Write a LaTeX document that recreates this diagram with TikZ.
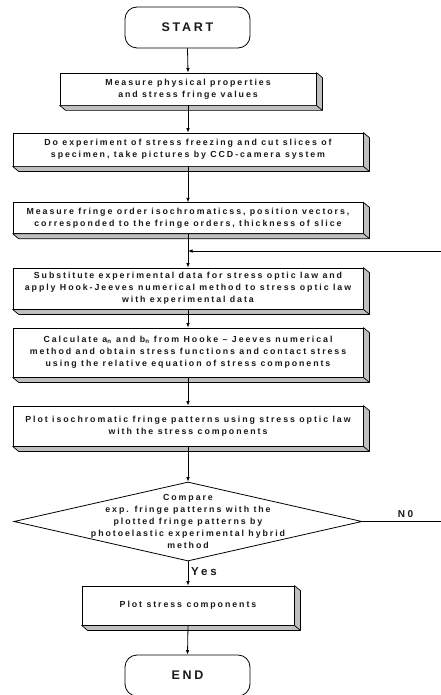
\documentclass[tikz,border=0pt]{standalone}
\usepackage{fontspec}
\usetikzlibrary{arrows.meta,shapes.geometric}
\newfontfamily\bfont{Liberation Sans}[LetterSpace=22]
\newfontfamily\tfont{Liberation Sans}[LetterSpace=22]
\newfontfamily\lfont{Liberation Sans}[LetterSpace=25]
\tikzset{
 base/.style={font=\bfont\bfseries\fontsize{8.8}{11.8}\selectfont, align=center, inner sep=0pt, text=black!90},
 proc/.style={base, draw, fill=white, line width=0.8pt},
 term/.style={base, draw, rounded corners=12pt, line width=0.8pt, font=\tfont\bfseries\fontsize{12.5}{14}\selectfont, minimum width=125pt, minimum height=41pt},
 arr/.style={-{Latex[length=4.5pt,width=3.6pt]}, line width=0.8pt},
 shade/.style={fill=black!25, draw, line width=0.7pt, line join=round},
 lbl/.style={font=\lfont\bfseries\fontsize{11.5}{13}\selectfont, inner sep=0pt, text=black!90}
}
\newcommand\boxshade[1]{%
 \draw[shade] (#1.north east) -- ([shift={(6,5)}]#1.north east) -- ([shift={(6,5)}]#1.south east) -- ([shift={(6,5)}]#1.south west) -- (#1.south west) -- (#1.south east) -- cycle;
 \draw[line width=0.7pt] (#1.south east) -- ([shift={(6,5)}]#1.south east);}
\begin{document}
\begin{tikzpicture}[x=1pt,y=-1pt]
\useasboundingbox[fill=white] (0,0) rectangle (440,695);
\node[term] (start) at (187.5,27.5) {START};
\node[proc, minimum width=256pt, minimum height=32pt] (b1) at (188,89) {Measure physical properties\\and stress fringe values};
\node[proc, minimum width=350pt, minimum height=33pt] (b2) at (188,149.5) {Do experiment of stress freezing and cut slices of\\specimen, take pictures by CCD-camera system};
\node[proc, minimum width=350pt, minimum height=30.5pt] (b3) at (188,218) {Measure fringe order isochromaticss, position vectors,\\corresponded to the fringe orders, thickness of slice};
\node[proc, minimum width=350pt, minimum height=41pt] (b4) at (188,288.5) {Substitute experimental data for stress optic law and\\apply Hook-Jeeves numerical method to stress optic law\\with experimental data};
\node[proc, minimum width=350pt, minimum height=49pt] (b5) at (188,352.5) {Calculate a\textsubscript{n} and b\textsubscript{n} from Hooke – Jeeves numerical\\method and obtain stress functions and contact stress\\using the relative equation of stress components};
\node[proc, minimum width=350pt, minimum height=40pt] (b6) at (188,426) {Plot isochromatic fringe patterns using stress optic law\\with the stress components};
\node[draw, diamond, line width=0.8pt, minimum width=348pt, minimum height=79pt, inner sep=0pt] (dec) at (188,521.5) {};
\node[base] (dect) at (188,521.5) {Compare\\exp. fringe patterns with the\\plotted fringe patterns by\\photoelastic experimental hybrid\\method};
\node[proc, minimum width=212pt, minimum height=39pt] (b7) at (188,605.5) {Plot stress components};
\node[term] (end) at (187.5,675.5) {END};
\node[lbl, font=\lfont\bfseries\fontsize{10}{12}\selectfont] (no) at (405.5,514) {N0};
\node[lbl, anchor=west] (yes) at (191,572) {Yes};
\boxshade{b1}\boxshade{b2}\boxshade{b3}\boxshade{b4}\boxshade{b5}\boxshade{b6}\boxshade{b7}
\coordinate (nor) at (446,521.5);
\coordinate (join) at (188,251);
\draw[arr] (start.south) -- (b1.north);
\draw[arr] (b1.south) -- (b2.north);
\draw[arr] (b2.south) -- (b3.north);
\draw[arr] (b3.south) -- (b4.north);
\draw[arr] (b4.south) -- (b5.north);
\draw[arr] (b5.south) -- (b6.north);
\draw[arr] (b6.south) -- (dec.north);
\draw[arr] (dec.south) -- (b7.north);
\draw[arr] (b7.south) -- (end.north);
\draw[arr] (dec.east) -- (nor) |- (join);
\end{tikzpicture}
\end{document}
